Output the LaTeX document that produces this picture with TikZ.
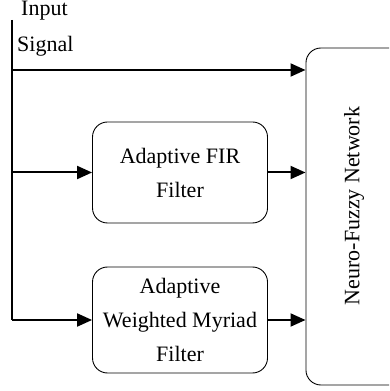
\documentclass[tikz,border=0pt]{standalone}
\usepackage{fontspec}
\setmainfont{Liberation Serif}
\usetikzlibrary{arrows.meta}
\begin{document}
\begin{tikzpicture}
            [x=1pt, y=1pt, font=\fontsize{22}{34}\selectfont,
            block/.style={draw, rounded corners=15pt, line width=0.9pt, align=center, inner sep=0pt},
            feed/.style={-{Triangle[length=15pt,width=13pt]}, line width=2pt}]
            \useasboundingbox (0,0) rectangle (389,391);
            \clip (0,0) rectangle (389,391);
            %\draw [help lines] (0,0) grid (389,391);
            \node[block, minimum width=175pt, minimum height=101pt] (fir) at (180,218.5) {Adaptive FIR\\Filter};
            \node[block, minimum width=175pt, minimum height=106pt] (awm) at (180,71) {Adaptive\\Weighted Myriad\\Filter};
            \node[block, minimum width=100pt, minimum height=337pt, anchor=west] (nfn) at (305.5,174.5) {};
            \node[rotate=90] (nfnlabel) at (354,185) {Neuro-Fuzzy Network};
            \node[anchor=base west, inner sep=0pt] (input) at (21,375.5) {Input};
            \node[anchor=base west, inner sep=0pt] (signal) at (17,339) {Signal};
            \coordinate (top) at (12,371);
            \coordinate (tap) at (12,321);
            \coordinate (bottom) at (12,71);
            \draw[line width=1.2pt] (top) -- (bottom);
            \draw[feed] (tap) -- (tap -| nfn.west);
            \draw[feed] (top |- fir.west) -- (fir.west);
            \draw[feed] (bottom) -- (awm.west);
            \draw[feed] (fir.east) -- (fir.east -| nfn.west);
            \draw[feed] (awm.east) -- (awm.east -| nfn.west);
        \end{tikzpicture}
\end{document}
